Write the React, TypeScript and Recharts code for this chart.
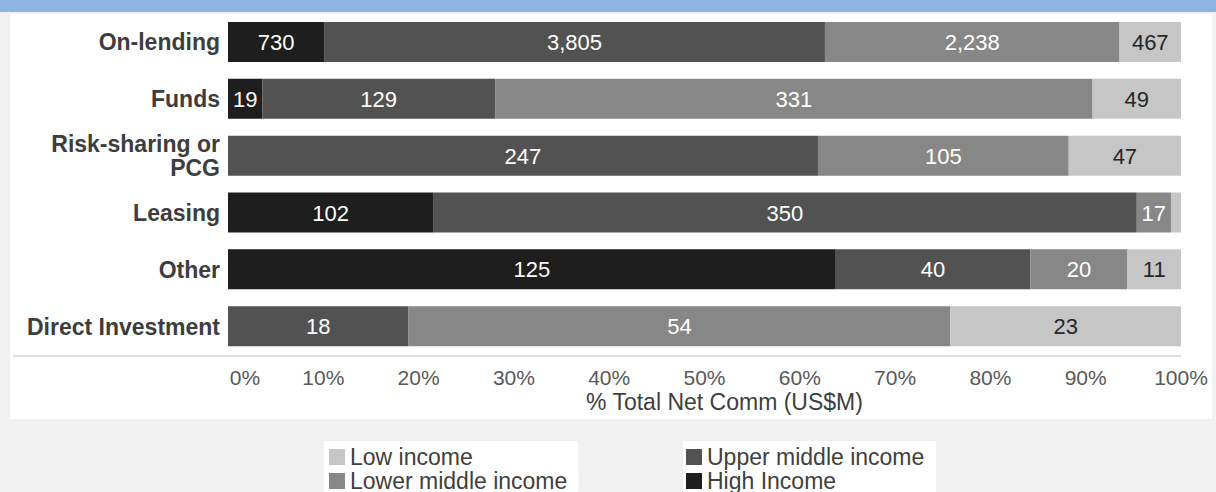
import React from 'react';
import { BarChart, Bar, XAxis, YAxis, LabelList } from 'recharts';

// Net commitments (US$M) by instrument and country income group
const categories = ['On-lending', 'Funds', 'Risk-sharing or PCG', 'Leasing', 'Other', 'Direct Investment'];
const highIncome = [730, 19, 0, 102, 125, 0];
const upperMiddle = [3805, 129, 247, 350, 40, 18];
const lowerMiddle = [2238, 331, 105, 17, 20, 54];
const lowIncome = [467, 49, 47, 5, 11, 23];
const xTicks = [0, 0.1, 0.2, 0.3, 0.4, 0.5, 0.6, 0.7, 0.8, 0.9, 1];

const FONT = '"Liberation Sans", Arial, sans-serif';

const series = [
  { key: 'high', name: 'High Income', fill: '#1e1e1e', text: '#ffffff' },
  { key: 'upper', name: 'Upper middle income', fill: '#525252', text: '#ffffff' },
  { key: 'lower', name: 'Lower middle income', fill: '#878787', text: '#ffffff' },
  { key: 'low', name: 'Low income', fill: '#c6c6c6', text: '#262626' },
];

const data = categories.map((name, i) => ({
  name,
  high: highIncome[i],
  upper: upperMiddle[i],
  lower: lowerMiddle[i],
  low: lowIncome[i],
}));

const makeLabel = (color: string) => (props: any) => {
  const vb = props.viewBox || {};
  const x = props.x ?? vb.x;
  const y = props.y ?? vb.y;
  const width = props.width ?? vb.width;
  const height = props.height ?? vb.height;
  const v = Number(props.value);
  if (!v || width < 16) return null;
  return (
    <text
      x={x + width / 2}
      y={y + height / 2}
      dy={8}
      textAnchor="middle"
      fill={color}
      fontSize={22}
      fontFamily={FONT}
    >
      {v.toLocaleString('en-US')}
    </text>
  );
};

// wrap long category names onto two lines like Excel does
const splitLabel = (s: string, maxChars = 17) => {
  const lines: string[] = [];
  let cur = '';
  s.split(' ').forEach(w => {
    const next = cur ? cur + ' ' + w : w;
    if (next.length > maxChars && cur) {
      lines.push(cur);
      cur = w;
    } else {
      cur = next;
    }
  });
  if (cur) lines.push(cur);
  return lines;
};

const CategoryTick = (props: any) => {
  const { x, y, payload } = props;
  const lines = splitLabel(String(payload.value));
  const lh = 24;
  const start = y + 8 - ((lines.length - 1) * lh) / 2;
  return (
    <text textAnchor="end" fontSize={23} fontWeight="bold" fontFamily={FONT} fill="#3d3d3d">
      {lines.map((l, i) => (
        <tspan key={i} x={x} y={start + i * lh}>
          {l}
        </tspan>
      ))}
    </text>
  );
};

const PercentTick = (props: any) => {
  const { x, y, payload } = props;
  // Excel nudged the 0% label off the axis origin
  const dx = payload.value === 0 ? 17 : 0;
  return (
    <text x={x + dx} y={y} dy={30} textAnchor="middle" fill="#595959" fontSize={21} fontFamily={FONT}>
      {Math.round(payload.value * 100)}%
    </text>
  );
};

const LegendItem = ({ color, label, left }: { color: string; label: string; left: number }) => (
  <div style={{ display: 'flex', alignItems: 'center', height: 24 }}>
    <div style={{ width: 16, height: 16, background: color, marginLeft: left, marginRight: 5 }} />
    <span>{label}</span>
  </div>
);

export default function App() {
  const byName = (n: string) => series.find(s => s.name === n)!.fill;
  const legendBox: React.CSSProperties = {
    position: 'absolute',
    top: 441,
    height: 60,
    background: '#ffffff',
    fontSize: 23,
    color: '#404040',
    paddingTop: 4,
    boxSizing: 'border-box',
    whiteSpace: 'nowrap',
  };
  return (
    <div
      style={{
        position: 'absolute',
        left: 0,
        top: 0,
        width: 1216,
        height: 492,
        background: '#f1f1f1',
        overflow: 'hidden',
        fontFamily: FONT,
      }}
    >
      <div style={{ position: 'absolute', left: 0, top: 0, width: 1216, height: 12, background: '#8db4e2' }} />
      <div style={{ position: 'absolute', left: 10, top: 14, width: 1202, height: 405, background: '#ffffff' }} />
      <div style={{ position: 'absolute', left: 13, top: 355, width: 1168, height: 2, background: '#dcdcdc' }} />

      <div style={{ position: 'absolute', left: 0, top: 0 }}>
        <BarChart
          width={1216}
          height={420}
          data={data}
          layout="vertical"
          stackOffset="expand"
          margin={{ top: 14, right: 35, bottom: 25, left: 0 }}
        >
          <XAxis
            type="number"
            domain={[0, 1]}
            ticks={xTicks}
            axisLine={false}
            tickLine={false}
            tickSize={0}
            tickMargin={0}
            height={40}
            tick={<PercentTick />}
            interval={0}
          />
          <YAxis
            type="category"
            dataKey="name"
            width={228}
            axisLine={false}
            tickLine={false}
            tickSize={0}
            tickMargin={8}
            tick={<CategoryTick />}
            interval={0}
          />
          {series.map(s => (
            <Bar key={s.key} dataKey={s.key} name={s.name} stackId="a" fill={s.fill} barSize={40} isAnimationActive={false}>
              <LabelList dataKey={s.key} content={makeLabel(s.text)} />
            </Bar>
          ))}
        </BarChart>
      </div>

      <div
        style={{
          position: 'absolute',
          left: 586,
          top: 391,
          lineHeight: '22px',
          fontSize: 23,
          color: '#404040',
          whiteSpace: 'nowrap',
        }}
      >
        % Total Net Comm (US$M)
      </div>

      <div style={{ ...legendBox, left: 324, width: 254 }}>
        <LegendItem color={byName('Low income')} label="Low income" left={5} />
        <LegendItem color={byName('Lower middle income')} label="Lower middle income" left={5} />
      </div>
      <div style={{ ...legendBox, left: 683, width: 253 }}>
        <LegendItem color={byName('Upper middle income')} label="Upper middle income" left={3} />
        <LegendItem color={byName('High Income')} label="High Income" left={3} />
      </div>
    </div>
  );
}
